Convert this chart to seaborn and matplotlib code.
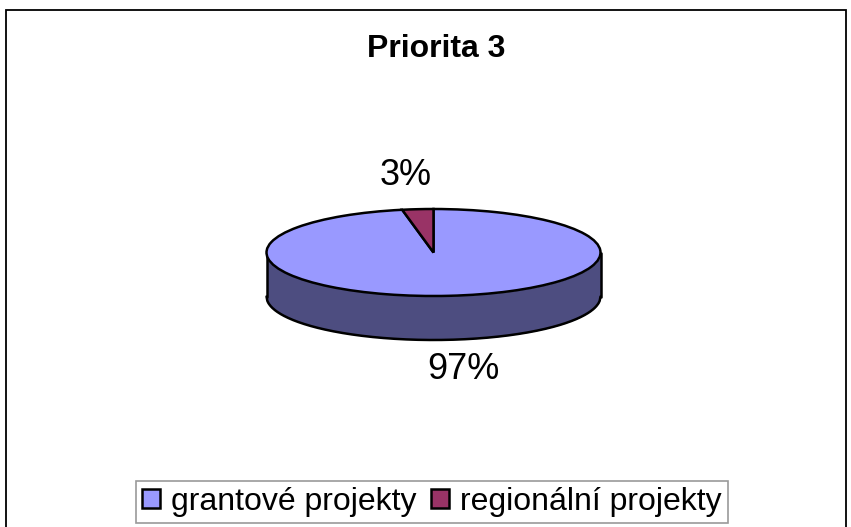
import matplotlib
matplotlib.use("Agg")
import matplotlib.pyplot as plt
import numpy as np
import seaborn as sns
from matplotlib.patches import Rectangle

sns.set_theme(style="white")
plt.rcParams['font.family'] = ['Liberation Sans', 'DejaVu Sans']
plt.rcParams['text.color'] = 'black'

# data
categories = ['grantové projekty', 'regionální projekty']
values = [97, 3]
top_colors = ['#9999FF', '#993366']
side_color = '#4D4D80'
title = 'Priorita 3'

W, H = 851, 527
fig = plt.figure(figsize=(W / 100, H / 100), dpi=100)
ax = fig.add_axes([0, 0, 1, 1])

# outer chart border
fig.patches.append(Rectangle((6 / W, -0.05), 840 / W, 1.05 - 10 / H,
                             transform=fig.transFigure, fill=False,
                             edgecolor='black', linewidth=1.3))

# pie geometry (pixels): centre, semi axes, depth
cx, cy = 433.5, 252.5
a, b = 167, 43.5
depth = 44 / b

# side of the cylinder (front half only is visible)
xs = np.linspace(-1, 1, 400)
lower = -np.sqrt(1 - xs ** 2)
ax.fill_between(xs, lower - depth, lower, color=side_color, linewidth=0, zorder=1)
ax.plot(xs, lower - depth, color='black', lw=1.8, zorder=2)
ax.plot([-1, -1], [0, -depth], color='black', lw=1.8, zorder=2)
ax.plot([1, 1], [0, -depth], color='black', lw=1.8, zorder=2)

wedges, _ = ax.pie(values, colors=top_colors, startangle=90, counterclock=False,
                   radius=1, center=(0, 0),
                   wedgeprops=dict(edgecolor='black', linewidth=1.8, zorder=3))
ax.set_aspect('auto')
ax.set_xlim(-cx / a, (W - cx) / a)
ax.set_ylim(-(H - cy) / b, cy / b)
ax.axis('off')

# percentage labels (radius and horizontal squeeze per label)
total = sum(values)
angles = np.cumsum([0] + values) / total * 360
label_r = [2.7, 1.78]
label_xs = [0.7, 1.0]
for i, v in enumerate(values):
    mid = np.deg2rad(90 - (angles[i] + angles[i + 1]) / 2)
    ax.text(label_r[i] * label_xs[i] * np.cos(mid), label_r[i] * np.sin(mid),
            f"{v / total:.0%}", ha='center', va='center', fontsize=26,
            color='black', zorder=5)

fig.text(436 / W, 1 - 49 / H, title, ha='center', va='center',
         fontsize=23, fontweight='bold', color='black')

leg = fig.legend(wedges, categories, loc='center', ncol=2,
                 bbox_to_anchor=(432 / W, 1 - 502 / H), fontsize=23,
                 frameon=True, fancybox=False, edgecolor='#808080',
                 handlelength=0.55, handleheight=0.55, handletextpad=0.35,
                 columnspacing=0.45, borderpad=0.2, borderaxespad=0)
leg.get_frame().set_linewidth(1.2)
for t in leg.get_texts():
    t.set_color('black')

fig.savefig('out.png', dpi=100, facecolor='white')
